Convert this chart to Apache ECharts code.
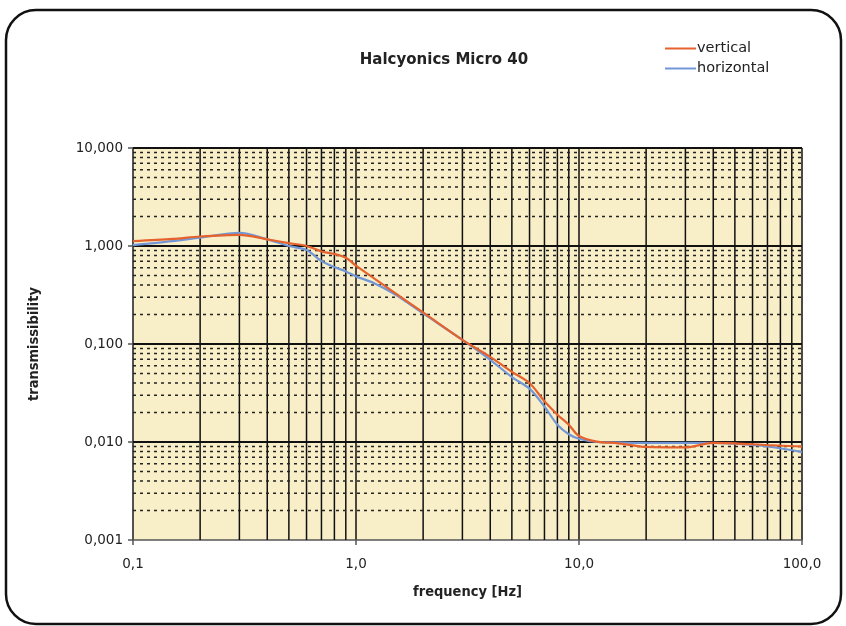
<!DOCTYPE html>
<html>
<head>
<meta charset="utf-8">
<script src="https://cdn.jsdelivr.net/npm/echarts@6/dist/echarts.min.js"></script>
<style>
html,body{margin:0;padding:0;background:#fff;}
#c{width:846px;height:626px;}
</style>
</head>
<body>
<div id="c"></div>
<script>
// ---- data ----
const freq = [0.1,0.15,0.2,0.3,0.4,0.5,0.6,0.7,0.8,0.9,1.0,1.2,1.5,2,3,4,5,6,7,8,9,10,12,15,20,30,40,50,70,100];
const vertical = [1.12,1.18,1.25,1.30,1.17,1.07,1.0,0.88,0.83,0.76,0.63,0.47,0.33,0.21,0.11,0.074,0.052,0.040,0.026,0.019,0.015,0.0115,0.0101,0.0097,0.0089,0.0088,0.0098,0.0097,0.0093,0.0090];
const horizontal = [1.02,1.12,1.22,1.36,1.17,1.0,0.91,0.70,0.61,0.55,0.49,0.42,0.32,0.205,0.11,0.069,0.046,0.035,0.023,0.015,0.012,0.0108,0.0100,0.0099,0.0098,0.0098,0.0098,0.0096,0.0090,0.0079];
const xRange = [0.1, 100];
const yRange = [0.001, 10];
const xMinor = [0.2,0.3,0.4,0.5,0.6,0.7,0.8,0.9,2,3,4,5,6,7,8,9,20,30,40,50,60,70,80,90];
const yDecades = [0.01,0.1,1,10];
const yMinor = [0.002,0.003,0.004,0.005,0.006,0.007,0.008,0.009,
                0.02,0.03,0.04,0.05,0.06,0.07,0.08,0.09,
                0.2,0.3,0.4,0.5,0.6,0.7,0.8,0.9,
                2,3,4,5,6,7,8,9];
const seriesNames = ['vertical','horizontal'];
const colors = ['#E5622E','#7397D6'];

const chart = echarts.init(document.getElementById('c'), null, {renderer:'canvas'});
const FONT = 'DejaVu Sans';
const NAMEFONT = '"Liberation Sans Narrow", "DejaVu Sans Condensed", "Liberation Sans"';
const pair = (ys) => freq.map((f,i)=>[f, ys[i]]);

// helper grid-line series (drawn through the axes' own log scales)
const gridSeries = [];
xMinor.forEach(v => gridSeries.push({
  type: 'line', name: '_gx' + v, data: [[v, yRange[0]], [v, yRange[1]]],
  silent: true, z: 1, symbol: 'none', showSymbol: false, legendHoverLink: false,
  lineStyle: {color: '#111', width: 1.5, type: 'solid'}, tooltip: {show: false}
}));
yMinor.forEach(v => gridSeries.push({
  type: 'line', name: '_gy' + v, data: [[xRange[0], v], [xRange[1], v]],
  silent: true, z: 1, symbol: 'none', showSymbol: false,
  lineStyle: {color: '#222', width: 1.5, type: [3, 4]}
}));
yDecades.forEach(v => gridSeries.push({
  type: 'line', name: '_gd' + v, data: [[xRange[0], v], [xRange[1], v]],
  silent: true, z: 2, symbol: 'none', showSymbol: false,
  lineStyle: {color: '#111', width: 1.8, type: 'solid'}
}));

const option = {
  backgroundColor: '#ffffff',
  animation: false,
  title: {
    text: 'Halcyonics Micro 40',
    left: 439, top: 48, textAlign: 'center',
    textStyle: {fontFamily: FONT, fontWeight: 'bold', fontSize: 15, color: '#222'}
  },
  legend: {
    orient: 'vertical',
    left: 665, top: 41, padding: 0,
    itemWidth: 31, itemHeight: 2, itemGap: 5,
    icon: 'rect',
    textStyle: {fontFamily: FONT, fontSize: 14.5, color: '#222', padding: [0,0,0,-4]},
    data: seriesNames
  },
  grid: {
    left: 133, right: 44, top: 148, bottom: 86,
    show: true, backgroundColor: '#F8EFC8', borderWidth: 0
  },
  xAxis: {
    type: 'log', logBase: 10, min: xRange[0], max: xRange[1],
    name: 'frequency [Hz]', nameLocation: 'middle', nameGap: 45,
    nameTextStyle: {fontFamily: NAMEFONT, fontWeight: 'bold', fontSize: 14.5, color: '#222'},
    axisLine: {show: true, lineStyle: {color: '#555', width: 1.5}},
    axisTick: {show: true, length: 5, lineStyle: {color: '#555', width: 1.5}},
    axisLabel: {margin: 17, fontFamily: FONT, fontSize: 13.5, color: '#222',
      formatter: v => v.toFixed(1).replace('.', ',')},
    splitLine: {show: true, lineStyle: {color: '#111', width: 1.5}}
  },
  yAxis: {
    type: 'log', logBase: 10, min: yRange[0], max: yRange[1],
    name: 'transmissibility', nameLocation: 'middle', nameGap: 91,
    nameTextStyle: {fontFamily: NAMEFONT, fontWeight: 'bold', fontSize: 14.5, color: '#222'},
    axisLine: {show: true, lineStyle: {color: '#555', width: 1.5}},
    axisTick: {show: true, length: 5, lineStyle: {color: '#555', width: 1.5}},
    axisLabel: {margin: 10, fontFamily: FONT, fontSize: 13.5, color: '#222',
      formatter: v => v.toFixed(3).replace('.', ',')},
    splitLine: {show: false}
  },
  graphic: [{
    type: 'rect', silent: true, z: 100,
    shape: {x: 6, y: 10, width: 835, height: 614, r: 30},
    style: {fill: 'none', stroke: '#111', lineWidth: 2.5}
  }],
  series: [
    ...gridSeries,
    {
      type: 'line', name: seriesNames[0], data: pair(vertical), z: 5,
      showSymbol: false, symbol: 'none', smooth: 0.3,
      lineStyle: {color: colors[0], width: 2.2}, itemStyle: {color: colors[0]}
    },
    {
      type: 'line', name: seriesNames[1], data: pair(horizontal), z: 4,
      showSymbol: false, symbol: 'none', smooth: 0.3,
      lineStyle: {color: colors[1], width: 2.2}, itemStyle: {color: colors[1]}
    }
  ]
};
chart.setOption(option);
</script>
</body>
</html>
